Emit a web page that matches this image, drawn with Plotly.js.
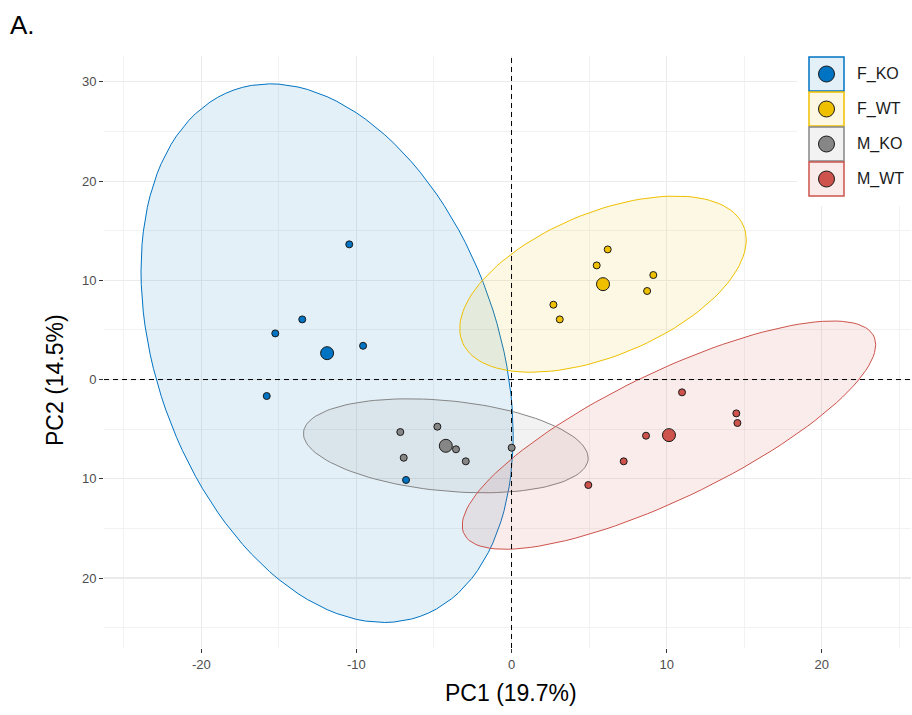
<!DOCTYPE html>
<html>
<head>
<meta charset="utf-8">
<script src="https://cdn.plot.ly/plotly-3.0.1.min.js"></script>
<style>html,body{margin:0;padding:0;background:#fff;}#chart{width:912px;height:715px;}</style>
</head>
<body>
<div id="chart"></div>
<script>
// ---- data ----
const groups = ['F_KO', 'F_WT', 'M_KO', 'M_WT'];
const colors = ['#0073C2', '#EFC000', '#868686', '#CD534C'];
const pc1_F_KO = [-10.46, -13.49, -15.23, -9.57, -15.78, -6.80];
const pc2_F_KO = [13.62, 6.06, 4.65, 3.40, -1.66, -10.12];
const pc1_F_WT = [6.20, 5.49, 9.14, 8.74, 2.70, 3.11];
const pc2_F_WT = [13.11, 11.50, 10.53, 8.92, 7.54, 6.06];
const pc1_M_KO = [-7.17, -4.78, -6.95, -3.58, -2.95, 0.01];
const pc2_M_KO = [-5.29, -4.75, -7.88, -7.03, -8.24, -6.87];
const pc1_M_WT = [10.99, 14.49, 14.56, 8.67, 7.23, 4.95];
const pc2_M_WT = [-1.29, -3.41, -4.38, -5.66, -8.24, -10.63];
const xTickVals = [-20, -10, 0, 10, 20];
const xTickText = ['-20', '-10', '0', '10', '20'];
const xMinorVals = [-25, -15, -5, 5, 15, 25];
const yTickVals = [30, 20, 10, 0, -10, -20];
const yTickText = ['30', '20', '10', '0', '10', '20'];
const yMinorVals = [25, 15, 5, -5, -15, -25];
const xTitle = 'PC1 (19.7%)';
const yTitle = 'PC2 (14.5%)';
const panelLabel = 'A.';

const pc1 = [pc1_F_KO, pc1_F_WT, pc1_M_KO, pc1_M_WT];
const pc2 = [pc2_F_KO, pc2_F_WT, pc2_M_KO, pc2_M_WT];

// ---- layout geometry ----
const W = 912, H = 715;
const M = {l: 104, r: 1, t: 56, b: 67};
const xRange = [-26.27, 25.75];
const yRange = [-27.05, 32.6];
const pw = W - M.l - M.r, ph = H - M.t - M.b;
const px = v => (v - M.l) / pw;
const py = v => (H - M.b - v) / ph;

function rgba(hex, a) {
  const n = parseInt(hex.slice(1), 16);
  return `rgba(${(n >> 16) & 255},${(n >> 8) & 255},${n & 255},${a})`;
}
const mean = a => a.reduce((s, v) => s + v, 0) / a.length;

// normal-theory 95% ellipse, as ggplot2 stat_ellipse(type = "norm")
function ellipse(xs, ys, level) {
  const n = xs.length, mx = mean(xs), my = mean(ys);
  let sxx = 0, syy = 0, sxy = 0;
  for (let i = 0; i < n; i++) {
    sxx += (xs[i] - mx) ** 2; syy += (ys[i] - my) ** 2; sxy += (xs[i] - mx) * (ys[i] - my);
  }
  sxx /= n - 1; syy /= n - 1; sxy /= n - 1;
  const d2 = n - 1;
  const f = (d2 / 2) * (Math.pow(1 - level, -2 / d2) - 1); // qf(level, 2, d2)
  const r = Math.sqrt(2 * f);
  const a = Math.sqrt(sxx), b = sxy / a, c = Math.sqrt(syy - b * b);
  const ex = [], ey = [];
  const N = 120;
  for (let k = 0; k <= N; k++) {
    const t = 2 * Math.PI * k / N;
    ex.push(mx + r * a * Math.cos(t));
    ey.push(my + r * (b * Math.cos(t) + c * Math.sin(t)));
  }
  return {ex, ey};
}

const traces = [];
groups.forEach((g, i) => {
  const e = ellipse(pc1[i], pc2[i], 0.95);
  traces.push({
    type: 'scatter', mode: 'lines', x: e.ex, y: e.ey, fill: 'toself',
    fillcolor: rgba(colors[i], 0.11), line: {color: colors[i], width: 1},
    hoverinfo: 'skip', showlegend: false
  });
});
// reference dashed lines
traces.push({type: 'scatter', mode: 'lines', x: xRange, y: [0, 0],
  line: {color: '#000', width: 1, dash: '5px,4px'}, hoverinfo: 'skip', showlegend: false});
traces.push({type: 'scatter', mode: 'lines', x: [0, 0], y: yRange,
  line: {color: '#000', width: 1, dash: '5px,4px'}, hoverinfo: 'skip', showlegend: false});
groups.forEach((g, i) => {
  traces.push({
    type: 'scatter', mode: 'markers', name: g, x: pc1[i], y: pc2[i],
    marker: {color: colors[i], size: 7, line: {color: '#1a1a1a', width: 1}},
    showlegend: false
  });
  traces.push({
    type: 'scatter', mode: 'markers', name: g + ' mean', x: [mean(pc1[i])], y: [mean(pc2[i])],
    marker: {color: colors[i], size: 13, line: {color: '#1a1a1a', width: 1}},
    showlegend: false
  });
});

// custom legend (boxed keys like ggplot)
const shapes = [];
const annotations = [];
shapes.push({type: 'rect', xref: 'paper', yref: 'paper', x0: px(797), x1: px(911), y0: py(206), y1: py(50),
  fillcolor: '#ffffff', line: {width: 0}, layer: 'above'});
const boxTop = 57, boxH = 35, boxL = 809, boxR = 844;
groups.forEach((g, i) => {
  const t = boxTop + i * boxH, b = t + boxH - 1;
  shapes.push({type: 'rect', xref: 'paper', yref: 'paper', x0: px(boxL), x1: px(boxR), y0: py(b), y1: py(t),
    fillcolor: rgba(colors[i], 0.11), line: {color: colors[i], width: 1.5}, layer: 'above'});
  const cy = (t + b) / 2, cx = (boxL + boxR) / 2;
  shapes.push({type: 'circle', xref: 'paper', yref: 'paper', xsizemode: 'pixel', ysizemode: 'pixel',
    xanchor: px(cx), yanchor: py(cy), x0: -8, x1: 8, y0: -8, y1: 8,
    fillcolor: colors[i], line: {color: '#1a1a1a', width: 1}, layer: 'above'});
  annotations.push({xref: 'paper', yref: 'paper', x: px(855), y: py(cy), xanchor: 'left', yanchor: 'middle',
    text: g, showarrow: false, font: {size: 16, color: '#1a1a1a'}});
});
annotations.push({xref: 'paper', yref: 'paper', x: px(511), y: py(693), xanchor: 'center', yanchor: 'middle',
  text: xTitle, showarrow: false, font: {size: 23, color: '#000'}});
annotations.push({xref: 'paper', yref: 'paper', x: px(55), y: py(380), xanchor: 'center', yanchor: 'middle',
  text: yTitle, textangle: -90, showarrow: false, font: {size: 23, color: '#000'}});

const axisCommon = {
  showgrid: true, gridcolor: '#EBEBEB', gridwidth: 1.1, zeroline: false, showline: false,
  ticks: 'outside', ticklen: 4, tickwidth: 1, tickcolor: '#333333',
  tickfont: {size: 13, color: '#4D4D4D'},
  fixedrange: true
};

const layout = {
  width: W, height: H, margin: M,
  paper_bgcolor: '#fff', plot_bgcolor: '#fff',
  font: {family: 'Liberation Sans, Arial, sans-serif'},
  title: {text: panelLabel, xref: 'container', yref: 'container', x: 10 / W, xanchor: 'left',
    y: 1 - 25 / H, yanchor: 'middle', font: {size: 26, color: '#000'}},
  xaxis: Object.assign({}, axisCommon, {range: xRange, tickmode: 'array', tickvals: xTickVals, ticktext: xTickText,
    minor: {tickmode: 'array', tickvals: xMinorVals, showgrid: true, gridcolor: '#EFEFEF', gridwidth: 0.8, ticks: ''}}),
  yaxis: Object.assign({}, axisCommon, {range: yRange, tickmode: 'array', tickvals: yTickVals, ticktext: yTickText,
    minor: {tickmode: 'array', tickvals: yMinorVals, showgrid: true, gridcolor: '#EFEFEF', gridwidth: 0.8, ticks: ''}}),
  shapes, annotations, showlegend: false, hovermode: 'closest'
};

Plotly.newPlot('chart', traces, layout, {displayModeBar: false, staticPlot: true});
</script>
</body>
</html>
